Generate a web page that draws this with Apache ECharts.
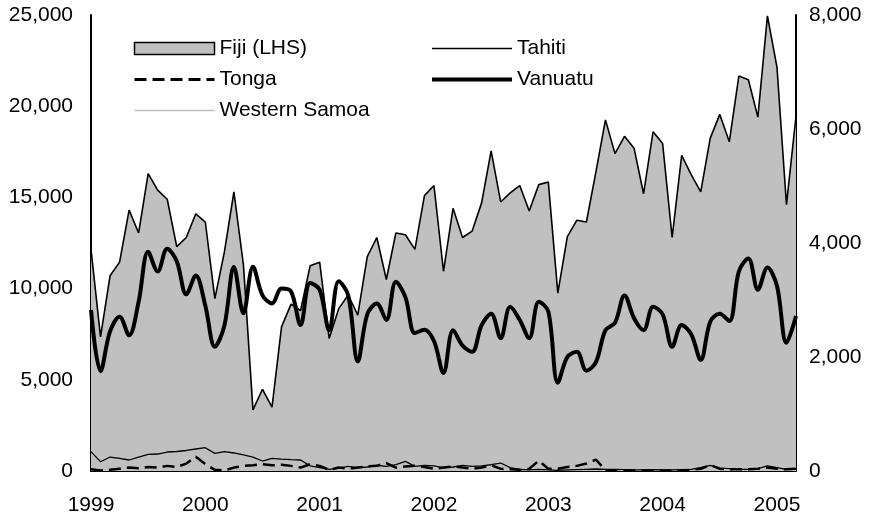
<!DOCTYPE html>
<html>
<head>
<meta charset="utf-8">
<script src="https://cdn.jsdelivr.net/npm/echarts@6/dist/echarts.min.js"></script>
<style>
html,body{margin:0;padding:0;background:#fff;}
#chart{width:873px;height:516px;}
</style>
</head>
<body>
<div id="chart"></div>
<script>
// Monthly categories, Jan 1999 .. Mar 2005
var months = [];
for (var y = 1999; y <= 2005; y++) {
  for (var m = 1; m <= 12; m++) {
    if (y === 2005 && m > 3) break;
    months.push(y + '-' + (m < 10 ? '0' + m : m));
  }
}
var yearLabels = ['1999','2000','2001','2002','2003','2004','2005'];
var leftTicks = [0, 5000, 10000, 15000, 20000, 25000];
var rightTicks = [0, 2000, 4000, 6000, 8000];

// Fiji (LHS)
var fiji = [12150,7350,10700,11450,14300,13050,16300,15400,14900,12300,12800,14100,
            13650,9450,12000,15300,11300,3350,4480,3500,7900,9150,8800,11250,
            11450,7270,8900,9650,8550,11750,12800,10500,13050,12950,12150,15100,
            15650,10950,14400,12800,13150,14700,17550,14750,15250,15650,14250,15700,
            15850,9750,12850,13750,13650,16400,19250,17400,18350,17700,15200,18600,
            17950,12800,17300,16250,15300,18250,19550,18050,21650,21450,19400,24950,
            22150,14600,19450];
// Vanuatu (RHS)
var vanuatu = [2824,1750,2450,2707,2380,2970,3847,3500,3900,3680,3100,3430,
               2900,2180,2550,3580,2766,3584,3080,2940,3200,3150,2560,3300,
               3180,2470,3330,3080,1920,2750,2940,2650,3320,3050,2420,2480,
               2280,1720,2470,2200,2090,2560,2760,2330,2880,2650,2330,2970,
               2800,1550,2000,2090,1760,1910,2470,2600,3080,2680,2470,2880,
               2750,2180,2560,2400,1950,2620,2760,2630,3500,3730,3180,3570,
               3250,2250,2720];
// Tahiti (RHS)
var tahiti = [339,163,245,220,193,245,290,298,333,342,360,386,
              409,310,339,316,281,245,175,222,210,200,193,90,
              60,30,50,80,60,70,100,80,110,170,80,100,
              90,60,70,100,80,90,110,140,60,30,20,30,
              20,10,20,25,30,35,30,30,25,20,20,25,
              20,20,25,30,60,100,50,40,30,30,40,90,
              60,30,30];
// Tonga (RHS)
var tonga = [30,10,20,40,60,50,70,60,90,70,130,250,
             120,20,10,60,90,100,120,100,110,90,60,120,
             90,20,60,40,60,80,90,140,60,80,90,70,
             40,60,80,60,40,60,100,40,30,20,40,180,
             40,40,70,90,130,200,10,10,10,10,10,10,
             10,10,15,20,40,105,40,30,30,30,40,60,
             40,30,40];
// Western Samoa (RHS)
var westernSamoa = [380,370,360,370,380,390,380,370,380,390,400,410,
                    400,390,380,370,380,390,380,370,380,390,400,400,
                    390,380,390,400,390,380,390,400,410,400,390,400,
                    400,390,380,390,400,410,400,390,400,410,400,390,
                    400,390,400,410,400,390,400,410,400,390,400,410,
                    400,390,400,410,400,390,400,410,400,390,400,410,
                    400,410,410];

var FONT = '"Liberation Sans", Arial, sans-serif';
function fmt(v){ return String(v).replace(/\B(?=(\d{3})+(?!\d))/g, ','); }

var legendText = {fontFamily: FONT, fontSize: 21, color: '#000', lineHeight: 21};
var chart = echarts.init(document.getElementById('chart'), null, {renderer:'canvas'});
chart.setOption({
  backgroundColor: '#ffffff',
  animation: false,
  textStyle: {fontFamily: FONT, color: '#000'},
  grid: {left: 91, right: 77, top: 15, bottom: 45, containLabel: false},
  legend: [
    {
      orient: 'vertical', left: 128, top: 33, itemWidth: 80, itemHeight: 12, itemGap: 10,
      textStyle: legendText,
      itemStyle: {opacity: 0},
      data: [
        {name: 'Fiji (LHS)', icon: 'rect', itemStyle: {color: '#C0C0C0', borderColor: '#000', borderWidth: 1.5, opacity: 1}},
        {name: 'Tonga', lineStyle: {color: '#000', width: 3, type: [12, 6]}},
        {name: 'Western Samoa', lineStyle: {color: '#C0C0C0', width: 1.5}}
      ]
    },
    {
      orient: 'vertical', left: 425, top: 33, itemWidth: 80, itemHeight: 12, itemGap: 10,
      textStyle: legendText,
      itemStyle: {opacity: 0},
      data: [
        {name: 'Tahiti', lineStyle: {color: '#000', width: 1.3}},
        {name: 'Vanuatu', lineStyle: {color: '#000', width: 4}}
      ]
    }
  ],
  xAxis: {
    type: 'category', data: months, boundaryGap: false,
    axisLine: {show: true, lineStyle: {color: '#000', width: 2}},
    axisTick: {show: false},
    splitLine: {show: false},
    axisLabel: {
      interval: function(i){ return i % 12 === 0; },
      formatter: function(v, i){ return yearLabels[Math.floor(i / 12)]; },
      fontFamily: FONT, fontSize: 21, color: '#000', margin: 24
    }
  },
  yAxis: [
    {
      type: 'value', position: 'left', min: leftTicks[0], max: leftTicks[leftTicks.length-1], interval: 5000,
      axisLine: {show: true, lineStyle: {color: '#000', width: 2}},
      axisTick: {show: false}, splitLine: {show: false},
      axisLabel: {formatter: fmt, fontFamily: FONT, fontSize: 21, color: '#000', margin: 18}
    },
    {
      type: 'value', position: 'right', min: rightTicks[0], max: rightTicks[rightTicks.length-1], interval: 2000,
      axisLine: {show: true, lineStyle: {color: '#000', width: 2}},
      axisTick: {show: false}, splitLine: {show: false},
      axisLabel: {formatter: fmt, fontFamily: FONT, fontSize: 21, color: '#000', margin: 13}
    }
  ],
  series: [
    {
      name: 'Fiji (LHS)', type: 'line', yAxisIndex: 0, data: fiji, symbol: 'none', z: 1,
      lineStyle: {color: '#000', width: 1.6},
      itemStyle: {color: '#C0C0C0', borderColor: '#000'},
      areaStyle: {color: '#C0C0C0', opacity: 1}
    },
    {
      name: 'Western Samoa', type: 'line', yAxisIndex: 1, data: westernSamoa, symbol: 'none', z: 2,
      lineStyle: {color: '#C0C0C0', width: 1.5}, itemStyle: {color: '#C0C0C0'}
    },
    {
      name: 'Tahiti', type: 'line', yAxisIndex: 1, data: tahiti, symbol: 'none', z: 3,
      lineStyle: {color: '#000', width: 1.3}, itemStyle: {color: '#000'}
    },
    {
      name: 'Tonga', type: 'line', yAxisIndex: 1, data: tonga, symbol: 'none', z: 4,
      lineStyle: {color: '#000', width: 2.5, type: [12, 6]}, itemStyle: {color: '#000'}
    },
    {
      name: 'Vanuatu', type: 'line', yAxisIndex: 1, data: vanuatu, symbol: 'none', z: 5, smooth: 0.35,
      lineStyle: {color: '#000', width: 4}, itemStyle: {color: '#000'}
    }
  ]
});
</script>
</body>
</html>
